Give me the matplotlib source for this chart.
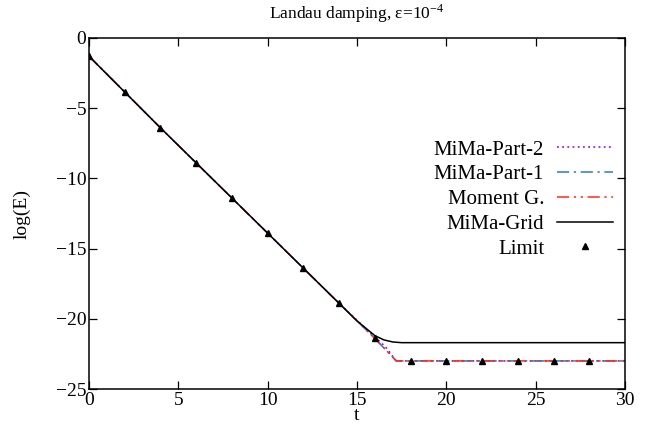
import matplotlib
matplotlib.use("Agg")
import matplotlib.pyplot as plt

plt.rcParams['font.family'] = ['Liberation Serif', 'DejaVu Serif']
plt.rcParams['mathtext.fontset'] = 'stix'

# data
t_grid = [0, 2, 4, 6, 8, 10, 12, 14, 15, 16, 16.5, 17, 17.5, 18, 30]
E_grid = [-1.3, -3.85, -6.4, -8.9, -11.4, -13.9, -16.4, -18.9, -20.15, -21.2, -21.5, -21.65, -21.7, -21.7, -21.7]

t_mom = [0, 2, 4, 6, 8, 10, 12, 14, 16, 17.2, 20, 25, 30]
E_mom = [-1.3, -3.85, -6.4, -8.9, -11.4, -13.9, -16.4, -18.9, -21.4, -23.0, -23.0, -23.0, -23.0]
E_part1 = [-1.3, -3.85, -6.4, -8.9, -11.4, -13.9, -16.4, -18.9, -21.4, -23.0, -23.0, -23.0, -23.0]

t_part2 = [0, 2, 4, 6, 8, 10, 12, 14, 16, 16.6, 17.2, 20, 25, 30]
E_part2 = [-1.3, -3.85, -6.4, -8.9, -11.4, -13.9, -16.4, -18.9, -21.3, -22.0, -23.0, -23.0, -23.0, -23.0]

t_limit = [0, 2, 4, 6, 8, 10, 12, 14, 16, 18, 20, 22, 24, 26, 28]
E_limit = [-1.3, -3.85, -6.4, -8.9, -11.4, -13.9, -16.4, -18.9, -21.4, -23.0, -23.0, -23.0, -23.0, -23.0, -23.0]

x_ticks = [0, 5, 10, 15, 20, 25, 30]
y_ticks = [0, -5, -10, -15, -20, -25]

fig = plt.figure(figsize=(6.51, 4.29), dpi=100)
L, R, T, B = 89, 625, 38, 389
ax = fig.add_axes([L/651, 1 - B/429, (R-L)/651, (B-T)/429])

ax.plot(t_part2, E_part2, color='#9400d3', linestyle=(0, (1.2, 2.2)), lw=1.1, label='MiMa-Part-2')
ax.plot(t_mom, E_part1, color='#2b7cc4', linestyle=(0, (8, 3, 1.5, 3)), lw=1.1, label='MiMa-Part-1')
ax.plot(t_mom, E_mom, color='#ff2a1a', linestyle=(0, (8, 3, 1.5, 3, 1.5, 3)), lw=1.1, label='Moment G.')
ax.plot(t_grid, E_grid, color='black', lw=1.1, label='MiMa-Grid')
ax.plot(t_limit, E_limit, linestyle='none', marker='^', ms=4, color='black', mfc='black', label='Limit')

ax.set_xlim(0, 30)
ax.set_ylim(-25, 0)
ax.set_xticks(x_ticks)
ax.set_yticks(y_ticks)
ax.tick_params(direction='in', top=True, right=True, length=6, width=0.9, labelsize=14, pad=2)
for s in ax.spines.values():
    s.set_linewidth(1.1)

ax.set_xlabel('t', fontsize=14, labelpad=-1)
ax.set_ylabel('log(E)', fontsize=14, labelpad=18)
ax.set_title(r'Landau damping, ε=10$^{\mathregular{-4}}$', fontsize=12.5, pad=14)

leg = ax.legend(loc='upper right', bbox_to_anchor=((613-L)/(R-L), (B-140)/(B-T)), frameon=False,
                markerfirst=False, fontsize=15, handlelength=2.7, handletextpad=0.6,
                labelspacing=0.25, borderaxespad=0, borderpad=0)
for t in leg.get_texts():
    t.set_ha('right')

fig.savefig('out.png', dpi=100)
